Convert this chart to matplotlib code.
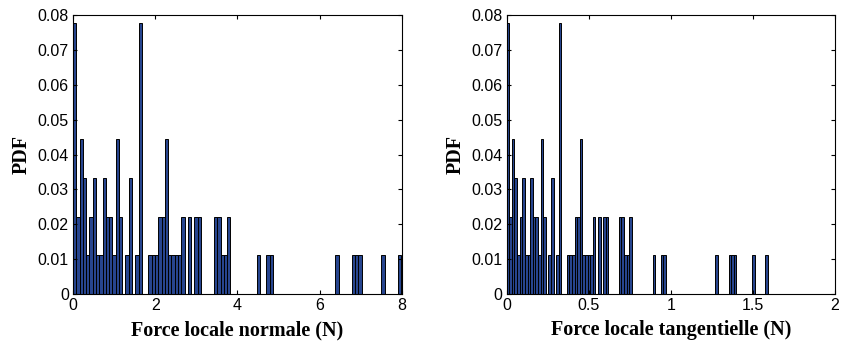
import matplotlib.pyplot as plt
import numpy as np

# histogram counts per bin (100 bins), 90 samples in total
n_samples = 90
counts_normal = [7, 2, 4, 3, 1, 2, 3, 1, 1, 3, 2, 2, 1, 4, 2, 0, 1, 3, 0, 1,
                 7, 0, 0, 1, 1, 1, 2, 2, 4, 1, 1, 1, 1, 2, 0, 2, 0, 2, 2, 0,
                 0, 0, 0, 2, 2, 1, 1, 2, 0, 0, 0, 0, 0, 0, 0, 0, 1, 0, 0, 1,
                 1, 0, 0, 0, 0, 0, 0, 0, 0, 0, 0, 0, 0, 0, 0, 0, 0, 0, 0, 0,
                 1, 0, 0, 0, 0, 1, 1, 1, 0, 0, 0, 0, 0, 0, 1, 0, 0, 0, 0, 1]
counts_tang = list(counts_normal)

range_normal = (0.0, 7.98)
range_tang = (0.0, 1.59)

xlabel_normal = "Force locale normale (N)"
xlabel_tang = "Force locale tangentielle (N)"
xticks_normal = [0, 2, 4, 6, 8]
xticks_tang = [0, 0.5, 1, 1.5, 2]
xtlabels_tang = ["0", "0.5", "1", "1.5", "2"]
yticks = [0, 0.01, 0.02, 0.03, 0.04, 0.05, 0.06, 0.07, 0.08]
ytlabels = ["0", "0.01", "0.02", "0.03", "0.04", "0.05", "0.06", "0.07", "0.08"]

barcol = "#27458f"
tickfont = ["Liberation Sans Narrow", "Liberation Sans"]
labfont = "Liberation Serif"

fig = plt.figure(figsize=(8.43, 3.49), dpi=100)
ax1 = fig.add_axes([0.0866, 0.1576, 0.390, 0.799])
ax2 = fig.add_axes([0.601, 0.1576, 0.3895, 0.799])


def draw(ax, counts, rng, xticks, xtl, xmax, xlabel):
    edges = np.linspace(rng[0], rng[1], len(counts) + 1)
    pdf = np.array(counts) / n_samples
    ax.bar(edges[:-1], pdf, width=np.diff(edges), align="edge",
           color=barcol, edgecolor="black", linewidth=0.7)
    ax.set_xlim(0, xmax)
    ax.set_ylim(0, 0.08)
    ax.set_xticks(xticks)
    ax.set_xticklabels(xtl, family=tickfont, fontsize=11.5)
    ax.set_yticks(yticks)
    ax.set_yticklabels(ytlabels, family=tickfont, fontsize=11.5)
    ax.tick_params(direction="in", top=True, right=True, length=3, width=0.8, pad=3)
    for s in ax.spines.values():
        s.set_linewidth(0.8)
    ax.set_xlabel(xlabel, family=labfont, fontweight="bold", fontsize=14.5, labelpad=5)
    ax.set_ylabel("PDF", family=labfont, fontweight="bold", fontsize=14.5, labelpad=4)


draw(ax1, counts_normal, range_normal, xticks_normal,
     [str(t) for t in xticks_normal], 8, xlabel_normal)
draw(ax2, counts_tang, range_tang, xticks_tang, xtlabels_tang, 2, xlabel_tang)

plt.savefig("out.png", dpi=100)
